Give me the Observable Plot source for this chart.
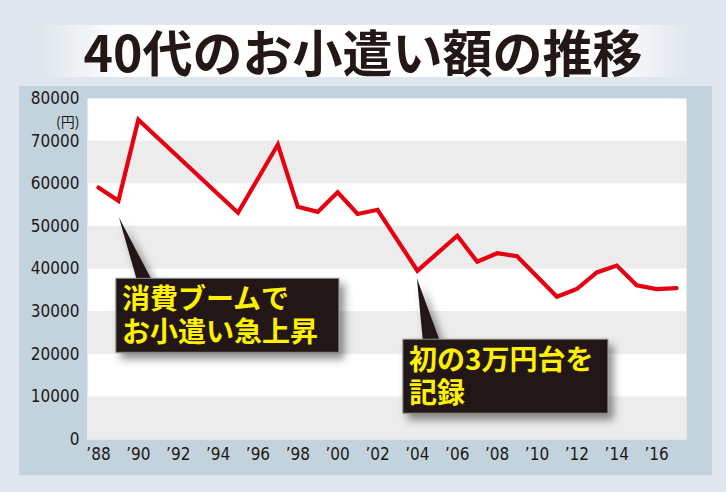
<!DOCTYPE html>
<html>
<head>
<meta charset="utf-8">
<script src="https://cdn.jsdelivr.net/npm/d3@7"></script>
<script src="https://cdn.jsdelivr.net/npm/@observablehq/plot@0.6"></script>
<style>
  html, body { margin: 0; padding: 0; }
  body { width: 726px; height: 492px; background: #dfe6ed; position: relative; overflow: hidden; }
  #band { position: absolute; left: 40px; top: 25px; width: 650px; height: 52px;
    background: linear-gradient(to right, rgba(255,255,255,0), rgba(255,255,255,0.95) 12%, #fff 50%, rgba(255,255,255,0.95) 88%, rgba(255,255,255,0)); }
  #title { position: absolute; left: 0; top: 21px; width: 726px; text-align: center;
    font-family: "Noto Sans CJK JP", sans-serif; font-weight: 700; font-size: 50px; letter-spacing: 0px;
    color: #231815; line-height: 58px; }
  #panel { position: absolute; left: 19px; top: 86px; width: 693px; height: 389px; background: #c2d3de; }
  #chart { position: absolute; left: 19px; top: 86px; }
</style>
</head>
<body>
<div id="band"></div>
<div id="title">40代のお小遣い額の推移</div>
<div id="panel"></div>
<div id="chart"></div>
<script>
// ---- data ----
const years  = [1988, 1989, 1990, 1995, 1997, 1998, 1999, 2000, 2001, 2002, 2004, 2006, 2007, 2008, 2009, 2011, 2012, 2013, 2014, 2015, 2016, 2017];
const values = [59100, 56000, 75000, 53200, 69200, 54600, 53400, 58000, 52900, 53900, 39600, 47800, 41700, 43700, 43000, 33500, 35300, 39200, 40800, 36200, 35300, 35500];
const yTicks = [0, 10000, 20000, 30000, 40000, 50000, 60000, 70000, 80000];
const xTicks = [1988, 1990, 1992, 1994, 1996, 1998, 2000, 2002, 2004, 2006, 2008, 2010, 2012, 2014, 2016];
const bandLows = [0, 20000, 40000, 60000];
const unitLabel = "(円)";
const annYears = [1989, 2004];
const annLines = [["消費ブームで", "お小遣い急上昇"], ["初の3万円台を", "記録"]];

const data = years.map((yr, i) => ({year: yr, value: values[i]}));
const bands = bandLows.map(b => ({y1: b, y2: b + 10000}));

const tickFont = "'Liberation Sans Narrow', 'DejaVu Sans Condensed', 'Arial Narrow', sans-serif";

const plot = Plot.plot({
  width: 693,
  height: 389,
  marginLeft: 68,
  marginRight: 26,
  marginTop: 12,
  marginBottom: 36,
  style: {background: "transparent", color: "#231815", fontFamily: tickFont, fontSize: "17px"},
  x: {domain: [1987.45, 2017.5], ticks: xTicks, tickSize: 0, tickPadding: 8,
      tickFormat: d => "’" + String(d).slice(2), label: null},
  y: {domain: [0, 80000], ticks: yTicks, tickSize: 0, tickPadding: 8,
      tickFormat: d => String(d), label: null},
  marks: [
    Plot.frame({fill: "#ffffff", stroke: "none"}),
    Plot.rect(bands, {y1: "y1", y2: "y2", fill: "#ececec"}),
    Plot.line(data, {x: "year", y: "value", stroke: "#e60012", strokeWidth: 4.2, strokeLinejoin: "miter", strokeMiterlimit: 10}),
    Plot.text([unitLabel], {frameAnchor: "top-left", dx: -8, dy: 19, textAnchor: "end",
      fontFamily: "'Noto Sans CJK JP', sans-serif", fontSize: 14, fill: "#231815"})
  ]
});

document.getElementById("chart").appendChild(plot);

// ---- callout annotations, positioned from the library's scales ----
const xs = plot.scale("x"), ys = plot.scale("y");
const svg = d3.select(plot);
const defs = svg.append("defs");
const f = defs.append("filter").attr("id", "shadow").attr("x", "-20%").attr("y", "-20%").attr("width", "150%").attr("height", "160%");
f.append("feDropShadow").attr("dx", 5).attr("dy", 6).attr("stdDeviation", 4)
  .attr("flood-color", "#000").attr("flood-opacity", 0.45);

const layouts = [
  {tipDx: 1, tipDy: 17, boxDx: -3, boxDy: 61, w: 223, h: 74, b1: 18, b2: 33},
  {tipDx: 0, tipDy: 8, boxDx: -14, boxDy: 61, w: 205, h: 74, b1: 6, b2: 23}
];

annYears.forEach((yr, i) => {
  const v = values[years.indexOf(yr)];
  const L = layouts[i];
  const tx = xs.apply(yr) + L.tipDx;
  const ty = ys.apply(v) + L.tipDy;
  const bx = tx + L.boxDx, by = ty + L.boxDy;
  const g = svg.append("g").attr("filter", "url(#shadow)");
  g.append("polygon")
    .attr("points", `${tx},${ty} ${tx + L.b1},${by + 2} ${tx + L.b2},${by + 2}`)
    .attr("fill", "#231815");
  g.append("rect").attr("x", bx).attr("y", by).attr("width", L.w).attr("height", L.h)
    .attr("fill", "#231815").attr("stroke", "#8a8a8a").attr("stroke-width", 1);
  const t = svg.append("text")
    .attr("font-family", "'Noto Sans CJK JP', sans-serif")
    .attr("font-weight", 700)
    .attr("font-size", 28)
    .attr("text-anchor", "start")
    .attr("fill", "#fff100");
  annLines[i].forEach((line, j) => {
    t.append("tspan").attr("x", bx + 6).attr("y", by + 31 + j * 33).attr("text-anchor", "start").text(line);
  });
});
</script>
</body>
</html>
